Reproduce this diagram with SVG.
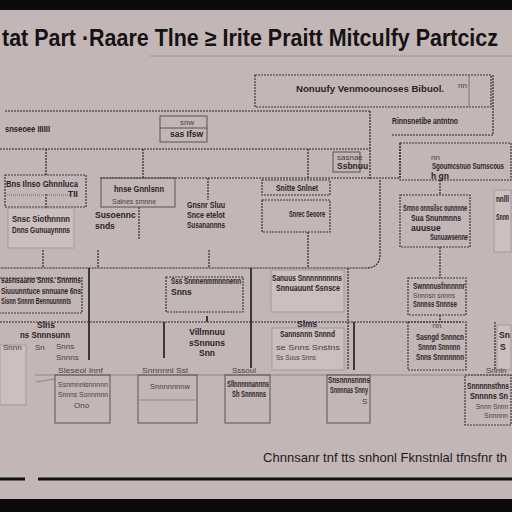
<svg xmlns="http://www.w3.org/2000/svg" width="512" height="512" viewBox="0 0 512 512">
<style>
.bg{fill:#c3b6b7}
.band{fill:#0c0a0b}
.t{font-family:"Liberation Sans",Arial,sans-serif;fill:#2a2426;font-size:8.5px;font-weight:bold}
.tl{font-family:"Liberation Sans",Arial,sans-serif;fill:#4a4244;font-size:8px}
.title{font-family:"Liberation Sans",Arial,sans-serif;fill:#161213;font-size:23px;font-weight:bold}
.foot{font-family:"Liberation Sans",Arial,sans-serif;fill:#1e1a1b;font-size:13px}
.box{fill:none;stroke:#3d3638;stroke-width:1.2;stroke-dasharray:2 1}
.sbox{fill:none;stroke:#5a5254;stroke-width:1}
.fbox{fill:#cbbfbf;stroke:#9c9294;stroke-width:0.8}
.ln{fill:none;stroke:#2e2829;stroke-width:1.2;stroke-dasharray:2 1}
.sl{fill:none;stroke:#1f1a1b;stroke-width:1.6}
.fl{fill:none;stroke:#8f8587;stroke-width:1}
</style>
<rect class="bg" x="0" y="0" width="512" height="512"/>
<rect class="band" x="0" y="0" width="512" height="10"/>
<rect class="band" x="0" y="499" width="512" height="13"/>
<text class="title" x="2" y="46" textLength="496" lengthAdjust="spacingAndGlyphs">tat Part ·Raare Tlne ≥ Irite Praitt Mitculfy Partcicz</text>
<line x1="150" y1="56" x2="512" y2="56" stroke="#7a7072" stroke-width="1" stroke-dasharray="1 1"/>

<g id="connectors">
<path class="ln" d="M5 111 H370 M370 111 V180"/>
<path class="ln" d="M0 149 H370"/>
<path class="ln" d="M46 149 V176 M143 149 V178 M308 149 V178"/>
<path class="ln" d="M100 178 H400 M400 178 V143"/>
<path class="ln" d="M493 75 V135 M392 135 H493"/>
<path class="ln" d="M208 178 V200 M139 207 V240 M46 194 V210"/>
<path class="ln" d="M440 180 V195"/>
<path class="ln" d="M380 180 V254 Q380 268 366 268 H0"/>
<path class="ln" d="M43 250 V268 M98 250 V268 M209 250 V268 M308 232 V268 M440 247 V278"/>
<path class="sl" d="M89 268 V360"/>
<path class="ln" d="M0 322 H462"/>
<path class="sl" d="M164 322 V358 M251 268 V368"/>
<path class="ln" d="M348 268 V370"/>
<path class="sl" d="M354 322 V370"/>
<path class="ln" d="M440 315 V322 M495 322 V370"/>
<path class="sl" d="M207 316 V322"/>
<path class="fl" d="M35 375 H512"/>
<path class="fl" d="M36 382 L55 379"/>
</g>

<g id="n-header">
<rect class="box" x="255" y="75" width="236" height="32"/>
<line x1="469" y1="75" x2="469" y2="107" stroke="#6b6264" stroke-width="0.8"/>
<text class="t" x="296" y="92" textLength="148" lengthAdjust="spacingAndGlyphs">Nonuufy Venmoounoses Bibuol.</text>
<text class="tl" x="458" y="88">nn</text>
</g>
<g id="n-note">
<text class="t" x="392" y="124" textLength="66" lengthAdjust="spacingAndGlyphs">Rinnsnetibe antntno</text>
</g>
<g id="n-small">
<rect class="sbox" x="160" y="116" width="47" height="26"/>
<line x1="160" y1="128" x2="207" y2="128" stroke="#5a5254"/>
<text class="tl" x="180" y="125">snw</text>
<text class="t" x="170" y="137">sas Ifsw</text>
<text class="t" x="5" y="132" textLength="45" lengthAdjust="spacingAndGlyphs">snseoee IIIIII</text>
</g>
<g id="n-a">
<rect class="box" x="5" y="175" width="81" height="32"/>
<line x1="5" y1="195" x2="70" y2="195" stroke="#6b6264" stroke-dasharray="1 1"/>
<text class="t" x="6" y="187" textLength="72" lengthAdjust="spacingAndGlyphs">Bns Ilnso Ghnnluca</text>
<text class="t" x="68" y="197">TII</text>
</g>
<g id="n-b">
<rect class="fbox" x="8" y="208" width="66" height="40"/>
<text class="t" x="12" y="222" textLength="58" lengthAdjust="spacingAndGlyphs">Snsc Siothnnnn</text>
<text class="t" x="12" y="233" textLength="58" lengthAdjust="spacingAndGlyphs">Dnns Gunuaynnns</text>
</g>
<g id="n-c">
<rect class="sbox" x="101" y="178" width="74" height="29"/>
<text class="t" x="114" y="192" textLength="50" lengthAdjust="spacingAndGlyphs">hnse Gnnlsnn</text>
<text class="tl" x="112" y="204" textLength="44" lengthAdjust="spacingAndGlyphs">Salnes smnne</text>
<text class="t" x="95" y="218">Susoennc</text>
<text class="t" x="95" y="229">snds</text>
</g>
<g id="n-d">
<text class="t" x="187" y="208" textLength="38" lengthAdjust="spacingAndGlyphs">Gnsnr Sluu</text>
<text class="t" x="187" y="218" textLength="38" lengthAdjust="spacingAndGlyphs">Snce etelot</text>
<text class="t" x="187" y="228" textLength="38" lengthAdjust="spacingAndGlyphs">Susanannns</text>
</g>
<g id="n-e">
<rect class="box" x="262" y="180" width="68" height="15"/>
<text class="t" x="276" y="191" textLength="42" lengthAdjust="spacingAndGlyphs">Snitte Snlnet</text>
<rect class="box" x="262" y="200" width="68" height="32"/>
<text class="t" x="289" y="217" textLength="36" lengthAdjust="spacingAndGlyphs">Snrec Seoore</text>
</g>
<g id="n-f">
<rect class="sbox" x="333" y="152" width="27" height="20"/>
<text class="tl" x="337" y="160">sasnae</text>
<text class="t" x="337" y="169">Ssbnuu</text>
</g>
<g id="n-g">
<rect class="box" x="400" y="143" width="111" height="37"/>
<text class="tl" x="431" y="160">nn</text>
<text class="t" x="432" y="169" textLength="72" lengthAdjust="spacingAndGlyphs">Sgoumcsnuo Surnscous</text>
<text class="t" x="431" y="179">h gn</text>
</g>
<g id="n-h">
<rect class="box" x="400" y="195" width="70" height="52"/>
<text class="t" x="403" y="211" textLength="64" lengthAdjust="spacingAndGlyphs">Srnno onnsilsc ounnnne</text>
<text class="t" x="411" y="221" textLength="50" lengthAdjust="spacingAndGlyphs">Sua Snunmnns</text>
<text class="t" x="411" y="231">auusue</text>
<text class="t" x="430" y="240" textLength="38" lengthAdjust="spacingAndGlyphs">Sunuawsenne</text>
</g>
<g id="n-i">
<rect class="fbox" x="494" y="190" width="17" height="62"/>
<text class="t" x="496" y="202" textLength="13" lengthAdjust="spacingAndGlyphs">nnlll</text>
<text class="t" x="496" y="220" textLength="13" lengthAdjust="spacingAndGlyphs">Snnn</text>
</g>
<g id="n-j">
<path class="box" d="M0 278 H82 V313 H0"/>
<text class="t" x="1" y="283" textLength="80" lengthAdjust="spacingAndGlyphs">sasnsaano Snns. Snnnns</text>
<text class="t" x="1" y="294" textLength="80" lengthAdjust="spacingAndGlyphs">Siuuunntuce snnuane 6ns</text>
<text class="t" x="1" y="304" textLength="70" lengthAdjust="spacingAndGlyphs">Sisnn Snnnn Bennuunnnts</text>
</g>
<g id="n-k">
<rect class="fbox" x="0" y="345" width="26" height="60"/>
<text class="t" x="37" y="328" font-size="10">Slns</text>
<text class="t" x="20" y="338" textLength="50" lengthAdjust="spacingAndGlyphs">ns Snnnsunn</text>
<text class="tl" x="3" y="350">Snnn</text>
<text class="tl" x="35" y="350">Sn</text>
<text class="tl" x="56" y="349">Snns</text>
<text class="tl" x="56" y="360">Snnns</text>
</g>
<g id="n-l">
<rect class="box" x="166" y="277" width="77" height="35"/>
<text class="t" x="171" y="284" textLength="70" lengthAdjust="spacingAndGlyphs">Sss Snnnenmmnnnenn</text>
<text class="t" x="171" y="295">Snns</text>
<text class="t" x="207" y="335" text-anchor="middle">Villmnuu</text>
<text class="t" x="207" y="346" text-anchor="middle">sSnnuns</text>
<text class="t" x="207" y="356" text-anchor="middle">Snn</text>
</g>
<g id="n-m">
<rect class="fbox" x="271" y="270" width="73" height="42"/>
<text class="t" x="272" y="281" textLength="70" lengthAdjust="spacingAndGlyphs">Sanuus Snnnnnnnnns</text>
<text class="t" x="276" y="291" textLength="64" lengthAdjust="spacingAndGlyphs">Snnuauunt Ssnsce</text>
</g>
<g id="n-n">
<rect class="fbox" x="272" y="328" width="72" height="42"/>
<text class="t" x="297" y="327" font-size="10">Slms</text>
<text class="t" x="280" y="337" textLength="55" lengthAdjust="spacingAndGlyphs">Sannsnnn Snnnd</text>
<text class="tl" x="276" y="350" textLength="64" lengthAdjust="spacingAndGlyphs">se Snns  Snstns</text>
<text class="tl" x="276" y="360" textLength="40" lengthAdjust="spacingAndGlyphs">Ss Suus  Snns</text>
</g>
<g id="n-o">
<rect class="box" x="408" y="278" width="58" height="37"/>
<text class="t" x="413" y="289" textLength="52" lengthAdjust="spacingAndGlyphs">Swnnnusfnnnnnr</text>
<text class="tl" x="413" y="298" textLength="42" lengthAdjust="spacingAndGlyphs">Snnnsn snnns</text>
<text class="t" x="413" y="307" textLength="44" lengthAdjust="spacingAndGlyphs">Snnnss Snnnse</text>
</g>
<g id="n-p">
<rect class="box" x="408" y="322" width="58" height="48"/>
<text class="tl" x="437" y="328" text-anchor="middle">nn</text>
<text class="t" x="416" y="340" textLength="48" lengthAdjust="spacingAndGlyphs">Sasngd Snnncn</text>
<text class="t" x="418" y="350" textLength="42" lengthAdjust="spacingAndGlyphs">Snnnn Snnnnn</text>
<text class="t" x="416" y="360" textLength="48" lengthAdjust="spacingAndGlyphs">Snns Snnnnnnn</text>
</g>
<g id="n-q">
<rect class="fbox" x="497" y="325" width="14" height="45"/>
<text class="t" x="499" y="338">Sn</text>
<text class="t" x="500" y="350">S</text>
</g>
<g id="n-r">
<text class="tl" x="58" y="373" textLength="45" lengthAdjust="spacingAndGlyphs">Sleseol Innf</text>
<rect class="sbox" x="55" y="375" width="55" height="48"/>
<text class="tl" x="58" y="387" textLength="50" lengthAdjust="spacingAndGlyphs">Ssnmnnlsnnnnn</text>
<text class="tl" x="58" y="397" textLength="50" lengthAdjust="spacingAndGlyphs">Snnns Sonnmnn</text>
<text class="tl" x="74" y="408">Ono</text>
</g>
<g id="n-s">
<text class="tl" x="142" y="373" textLength="46" lengthAdjust="spacingAndGlyphs">Snnnnnl Ssl</text>
<rect class="sbox" x="138" y="375" width="59" height="48"/>
<line x1="138" y1="400" x2="197" y2="400" stroke="#8f8587"/>
<text class="tl" x="150" y="389" textLength="40" lengthAdjust="spacingAndGlyphs">Snnnnnnnw</text>
</g>
<g id="n-t">
<text class="tl" x="232" y="373">Sssoul</text>
<rect class="sbox" x="225" y="375" width="45" height="48"/>
<text class="t" x="227" y="387" textLength="42" lengthAdjust="spacingAndGlyphs">Sllnnnnnannns</text>
<text class="t" x="232" y="397" textLength="34" lengthAdjust="spacingAndGlyphs">Sh Snnnnns</text>
</g>
<g id="n-u">
<rect class="sbox" x="327" y="375" width="43" height="48"/>
<text class="t" x="328" y="383" textLength="42" lengthAdjust="spacingAndGlyphs">Snsnnnsnnns</text>
<text class="t" x="330" y="393" textLength="38" lengthAdjust="spacingAndGlyphs">Snnnnas Snny</text>
<text class="tl" x="362" y="404">S</text>
</g>
<g id="n-v">
<text class="tl" x="486" y="373">Snnln</text>
<rect class="box" x="465" y="375" width="46" height="50"/>
<text class="t" x="467" y="389" textLength="42" lengthAdjust="spacingAndGlyphs">Snnnnnsthns</text>
<text class="t" x="470" y="399" textLength="38" lengthAdjust="spacingAndGlyphs">Snnnns Sn</text>
<text class="tl" x="476" y="409" textLength="32" lengthAdjust="spacingAndGlyphs">Snnn Snnn</text>
<text class="tl" x="484" y="418" textLength="24" lengthAdjust="spacingAndGlyphs">Snnnnn</text>
</g>

<text class="foot" x="263" y="462" textLength="244" lengthAdjust="spacingAndGlyphs">Chnnsanr tnf tts snhonl Fknstnlal tfnsfnr th</text>
<line x1="0" y1="479" x2="25" y2="479" stroke="#111" stroke-width="3"/>
<line x1="38" y1="479" x2="512" y2="479" stroke="#111" stroke-width="3"/>
</svg>
